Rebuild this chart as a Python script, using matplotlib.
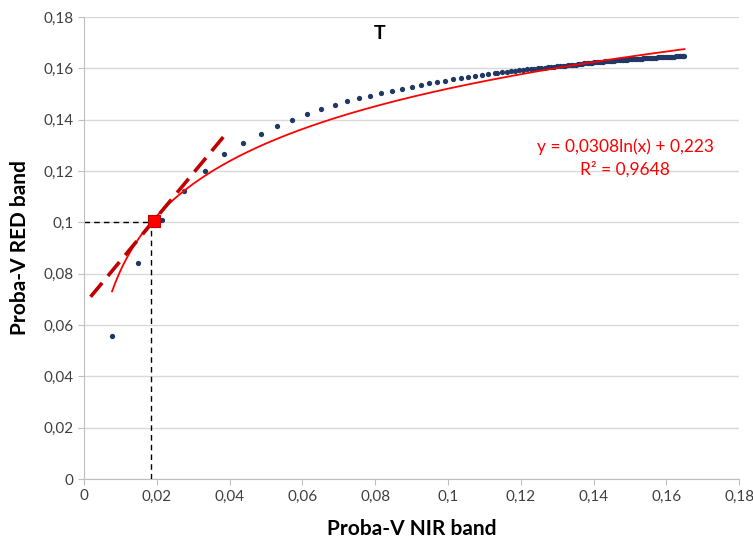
import numpy as np
import matplotlib.pyplot as plt
from matplotlib.ticker import FuncFormatter

# NIR / RED reflectance pairs
nir = [0.0077, 0.0148, 0.0214, 0.0275, 0.0332, 0.0385, 0.0437, 0.0485, 0.0531, 0.0572,
       0.0614, 0.0651, 0.0689, 0.0723, 0.0755, 0.0787, 0.0817, 0.0846, 0.0874, 0.0900,
       0.0925, 0.0949, 0.0971, 0.0993, 0.1015, 0.1035, 0.1055, 0.1074, 0.1093, 0.1111,
       0.1128, 0.1136, 0.1149, 0.1161, 0.1173, 0.1185, 0.1196, 0.1207, 0.1217, 0.1227,
       0.1237, 0.1248, 0.1257, 0.1266, 0.1275, 0.1284, 0.1292, 0.1300, 0.1308, 0.1316,
       0.1323, 0.1330, 0.1337, 0.1344, 0.1351, 0.1357, 0.1363, 0.1369, 0.1375, 0.1381,
       0.1387, 0.1392, 0.1397, 0.1402, 0.1407, 0.1412, 0.1417, 0.1422, 0.1427, 0.1432,
       0.1437, 0.1442, 0.1447, 0.1452, 0.1457, 0.1462, 0.1467, 0.1472, 0.1477, 0.1482,
       0.1487, 0.1492, 0.1497, 0.1502, 0.1507, 0.1512, 0.1517, 0.1522, 0.1527, 0.1532,
       0.1537, 0.1542, 0.1547, 0.1552, 0.1557, 0.1562, 0.1567, 0.1572, 0.1577, 0.1582,
       0.1587, 0.1592, 0.1597, 0.1602, 0.1607, 0.1612, 0.1617, 0.1622, 0.1627, 0.1632,
       0.1637, 0.1642, 0.1647, 0.1650]
red = [0.0557, 0.0842, 0.1009, 0.1122, 0.1200, 0.1267, 0.1309, 0.1346, 0.1376, 0.1400,
       0.1424, 0.1442, 0.1457, 0.1472, 0.1484, 0.1494, 0.1505, 0.1512, 0.1520, 0.1528,
       0.1535, 0.1542, 0.1547, 0.1552, 0.1558, 0.1562, 0.1565, 0.1569, 0.1573, 0.1577,
       0.1580, 0.1582, 0.1584, 0.1586, 0.1588, 0.1590, 0.1592, 0.1594, 0.1596, 0.1597,
       0.1599, 0.1601, 0.1602, 0.1603, 0.1605, 0.1606, 0.1607, 0.1608, 0.1609, 0.1610,
       0.1611, 0.1612, 0.1613, 0.1614, 0.1615, 0.1616, 0.1617, 0.1618, 0.1619, 0.1620,
       0.1621, 0.1622, 0.1622, 0.1623, 0.1624, 0.1624, 0.1625, 0.1626, 0.1626, 0.1627,
       0.1628, 0.1628, 0.1629, 0.1630, 0.1630, 0.1631, 0.1631, 0.1632, 0.1633, 0.1633,
       0.1634, 0.1634, 0.1635, 0.1635, 0.1636, 0.1636, 0.1637, 0.1637, 0.1638, 0.1638,
       0.1639, 0.1639, 0.1640, 0.1640, 0.1641, 0.1641, 0.1642, 0.1642, 0.1643, 0.1643,
       0.1644, 0.1644, 0.1644, 0.1645, 0.1645, 0.1646, 0.1646, 0.1646, 0.1647, 0.1647,
       0.1647, 0.1648, 0.1648, 0.1648]

# logarithmic trend line coefficients (as printed on the chart)
a_log, b_log = 0.0308, 0.223
r2 = 0.9648

# threshold point and tangent line end points
thr_x, thr_y = 0.0191, 0.1005
guide_x, guide_y = 0.0184, 0.1000
tan_x = [0.0018, 0.0397]
tan_y = [0.0710, 0.1357]

fig = plt.figure(figsize=(7.53, 5.39), dpi=100)
ax = fig.add_axes([0.1116, 0.1113, 0.8699, 0.8571])

# black guide lines to the axes
ax.plot([0, guide_x], [guide_y, guide_y], color='black', lw=1, ls=(0, (4, 3)), zorder=2)
ax.plot([guide_x, guide_x], [0, guide_y], color='black', lw=1, ls=(0, (4, 3)), zorder=2)

# data points
ax.plot(nir, red, 'o', color='#1F3864', markersize=3.8, markeredgewidth=0, zorder=3)

# log trend line
xs = np.linspace(min(nir), max(nir), 200)
ax.plot(xs, a_log * np.log(xs) + b_log, color='#FF0000', lw=1.3, zorder=4)

# tangent line
ax.plot(tan_x, tan_y, color='#C00000', lw=2.6, ls=(0, (5, 2.5)), zorder=4)

# threshold marker
ax.plot([thr_x], [thr_y], 's', color='#FF0000', markeredgecolor='#C00000',
        markersize=9, markeredgewidth=0.8, zorder=5)

ax.text(0.0813, 0.1737, 'T', fontsize=14, fontweight='bold', family='Lato',
        ha='center', va='center')
ax.text(0.1487, 0.1293, 'y = 0,0308ln(x) + 0,223', color='#FF0000', fontsize=12.5,
        family='Lato', ha='center', va='center')
ax.text(0.1487, 0.1206, 'R² = ' + str(r2).replace('.', ','), color='#FF0000', fontsize=12.5,
        family='Lato', ha='center', va='center')

ax.set_xlim(0, 0.18)
ax.set_ylim(0, 0.18)
ticks = np.round(np.arange(0, 0.181, 0.02), 2)
ax.set_xticks(ticks)
ax.set_yticks(ticks)
fmt = FuncFormatter(lambda v, p: ('%g' % round(v, 2)).replace('.', ','))
ax.xaxis.set_major_formatter(fmt)
ax.yaxis.set_major_formatter(fmt)
for lab in ax.get_xticklabels() + ax.get_yticklabels():
    lab.set_family('Lato')

ax.grid(axis='y', color='#D9D9D9', lw=1)
ax.set_axisbelow(True)
for s in ['top', 'right']:
    ax.spines[s].set_visible(False)
for s in ['left', 'bottom']:
    ax.spines[s].set_color('#BFBFBF')
ax.tick_params(colors='#BFBFBF', labelcolor='#404040', labelsize=11, length=4)

ax.set_xlabel('Proba-V NIR band', fontsize=15, fontweight='bold', family='Lato', labelpad=11)
ax.set_ylabel('Proba-V RED band', fontsize=15, fontweight='bold', family='Lato', labelpad=10)

fig.savefig('out.png', dpi=100)
